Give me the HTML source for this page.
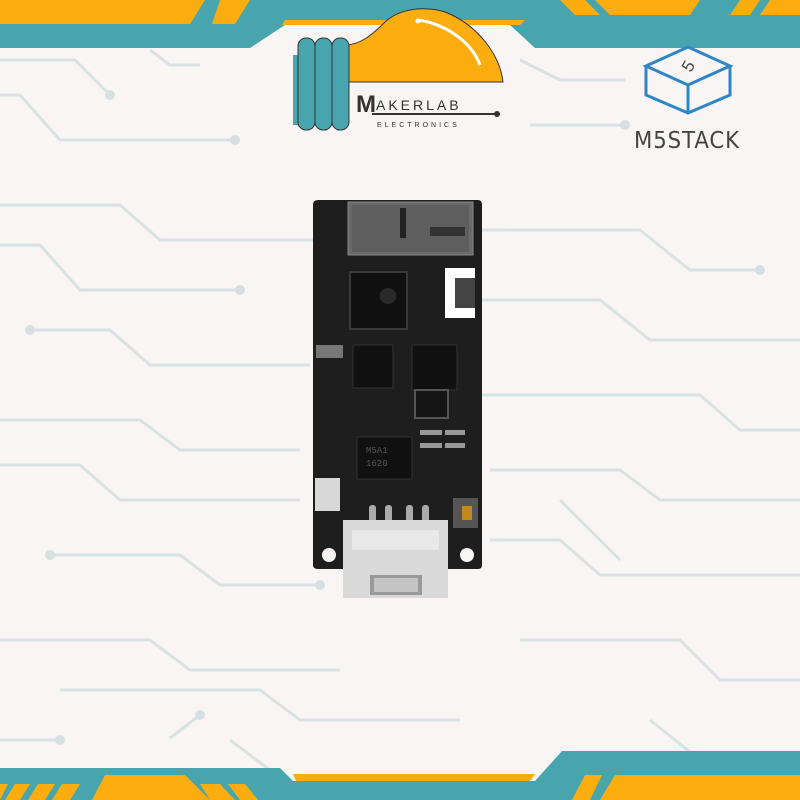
<!DOCTYPE html><html><head><style>html,body{margin:0;padding:0;background:#f8f5f4}svg{display:block}</style></head><body>
<svg width="800" height="800" viewBox="0 0 800 800" xmlns="http://www.w3.org/2000/svg">
<rect width="800" height="800" fill="#f8f5f4"/>
<g stroke="#d6e0e2" stroke-width="3" fill="none" opacity="0.9">
<path d="M0 60 H75 L110 95"/><path d="M0 95 H20 L60 140 H235"/><path d="M150 50 L170 65 H200"/>
<path d="M520 60 L560 80 H625"/><path d="M530 125 H625"/>
<path d="M0 205 H120 L160 240 H320"/><path d="M0 245 H40 L80 290 H240"/><path d="M30 330 H110 L150 365 H310"/>
<path d="M0 420 H140 L180 450 H300"/><path d="M0 465 H80 L120 500 H300"/><path d="M50 555 H180 L220 585 H320"/>
<path d="M480 230 H640 L690 270 H760"/><path d="M480 300 H600 L650 340 H800"/><path d="M480 395 H700 L740 430 H800"/>
<path d="M490 470 H620 L660 500 H800"/><path d="M490 540 H560 L600 575 H800"/><path d="M560 500 L620 560"/>
<path d="M0 640 H150 L190 670 H340"/><path d="M60 690 H260 L300 720 H460"/><path d="M520 640 H680 L720 680 H800"/>
<path d="M230 740 L270 770"/><path d="M650 720 L700 760"/><path d="M0 740 H60"/><path d="M170 738 L200 715"/>
</g>
<g fill="#d6e0e2"><circle cx="110" cy="95" r="5"/><circle cx="235" cy="140" r="5"/><circle cx="625" cy="125" r="5"/><circle cx="320" cy="240" r="5"/><circle cx="240" cy="290" r="5"/><circle cx="30" cy="330" r="5"/><circle cx="760" cy="270" r="5"/><circle cx="60" cy="740" r="5"/><circle cx="200" cy="715" r="5"/><circle cx="320" cy="585" r="5"/><circle cx="50" cy="555" r="5"/></g>
<polygon points="0,0 800,0 800,48 535,48 510,25 285,25 250,48 0,48" fill="#48a5ae"/>
<polygon points="0,0 205,0 190,24 0,24" fill="#fbad0f"/>
<polygon points="220,0 250,0 235,24 212,24" fill="#fbad0f"/>
<polygon points="285,20 525,20 520,25 282,25" fill="#fbad0f"/>
<polygon points="560,0 585,0 600,15 575,15" fill="#fbad0f"/>
<polygon points="595,0 700,0 690,15 610,15" fill="#fbad0f"/>
<polygon points="740,0 760,0 750,15 730,15" fill="#fbad0f"/>
<polygon points="770,0 800,0 800,15 760,15" fill="#fbad0f"/>
<polygon points="0,768 280,768 293,781 535,781 562,751 800,751 800,800 0,800" fill="#48a5ae"/>
<polygon points="293,774 535,774 530,781 296,781" fill="#fbad0f"/>
<polygon points="0,784 8,784 0,800" fill="#fbad0f"/><polygon points="15,784 30,784 20,800 5,800" fill="#fbad0f"/>
<polygon points="38,784 55,784 45,800 28,800" fill="#fbad0f"/><polygon points="62,784 80,784 70,800 52,800" fill="#fbad0f"/>
<polygon points="105,775 185,775 210,800 92,800" fill="#fbad0f"/>
<polygon points="200,784 220,784 235,800 210,800" fill="#fbad0f"/><polygon points="228,784 245,784 258,800 240,800" fill="#fbad0f"/>
<polygon points="585,775 602,775 590,800 572,800" fill="#fbad0f"/>
<polygon points="615,775 800,775 800,800 600,800" fill="#fbad0f"/>
<path d="M345 45 C360 45 372 35 385 22 C400 8 425 6 445 12 C478 25 500 55 503 82 H345 Z" fill="#fbad0f" stroke="#333" stroke-width="1"/>
<path d="M418 20 C440 23 470 38 480 65" stroke="#fff" stroke-width="3" fill="none"/>
<circle cx="418" cy="21" r="2.5" fill="#fff"/>
<rect x="293" y="55" width="8" height="70" fill="#48a5ae"/>
<rect x="298" y="38" width="17" height="92" rx="8" fill="#48a5ae" stroke="#333"/>
<rect x="315" y="38" width="17" height="92" rx="8" fill="#48a5ae" stroke="#333"/>
<rect x="332" y="38" width="17" height="92" rx="8" fill="#48a5ae" stroke="#333"/>
<text x="356" y="112" font-family="Liberation Sans,sans-serif" font-size="24" font-weight="bold" fill="#333">M</text>
<text x="376" y="110" font-family="Liberation Sans,sans-serif" font-size="14" fill="#333" letter-spacing="3">AKERLAB</text>
<line x1="372" y1="114" x2="497" y2="114" stroke="#333" stroke-width="2"/>
<circle cx="497" cy="114" r="3" fill="#333"/>
<text x="377" y="127" font-family="Liberation Sans,sans-serif" font-size="7" fill="#333" letter-spacing="3">ELECTRONICS</text>
<g stroke="#2f86c5" stroke-width="3" fill="none">
<polygon points="688,47 730,66 688,85 646,66"/><path d="M646 66 V95 L688 113 L730 95 V66 M688 85 V113"/>
</g>
<text x="688" y="72" font-family="Liberation Sans,sans-serif" font-size="17" fill="#444" text-anchor="middle" transform="rotate(-60 688 66)">5</text>
<text x="687" y="148" font-family="DejaVu Sans,sans-serif" font-size="23" fill="#444" text-anchor="middle" letter-spacing="1" textLength="106" lengthAdjust="spacingAndGlyphs">M5STACK</text>
<path d="M318 200 H478 Q482 200 482 205 V565 Q482 569 478 569 H318 Q313 569 313 565 V205 Q313 200 318 200 Z" fill="#1e1e1e"/>
<rect x="348" y="202" width="125" height="53" fill="#6a6a6a" stroke="#888"/>
<rect x="352" y="205" width="117" height="47" fill="#5e5e5e"/>
<rect x="400" y="208" width="6" height="30" fill="#222"/><rect x="430" y="227" width="35" height="9" fill="#333"/>
<path d="M445 268 H475 V280 H455 V305 H475 V318 H445 Z" fill="#fff"/>
<rect x="455" y="278" width="20" height="30" fill="#444"/>
<rect x="350" y="272" width="57" height="57" fill="#111" stroke="#3a3a3a" stroke-width="2"/>
<circle cx="388" cy="296" r="8" fill="#2a2a2a"/>
<rect x="353" y="345" width="40" height="43" fill="#111" stroke="#333"/>
<rect x="412" y="345" width="45" height="45" fill="#111" stroke="#333"/>
<rect x="415" y="390" width="33" height="28" fill="#151515" stroke="#555" stroke-width="2"/>
<rect x="316" y="345" width="27" height="13" fill="#777"/>
<rect x="357" y="437" width="55" height="42" fill="#111" stroke="#333"/>
<text x="366" y="453" font-family="Liberation Mono,monospace" font-size="9" fill="#555">M5A1</text>
<text x="366" y="466" font-family="Liberation Mono,monospace" font-size="9" fill="#555">1620</text>
<g fill="#9a9a9a"><rect x="420" y="430" width="22" height="5"/><rect x="445" y="430" width="20" height="5"/><rect x="420" y="443" width="22" height="5"/><rect x="445" y="443" width="20" height="5"/></g>
<rect x="315" y="478" width="25" height="33" fill="#d8d8d8"/>
<rect x="453" y="498" width="25" height="30" fill="#555"/><rect x="462" y="506" width="10" height="14" fill="#c38a1a"/>
<circle cx="329" cy="555" r="7" fill="#f8f5f4"/><circle cx="467" cy="555" r="7" fill="#f8f5f4"/>
<g fill="#aaa"><rect x="369" y="505" width="7" height="20" rx="3"/><rect x="385" y="505" width="7" height="20" rx="3"/><rect x="406" y="505" width="7" height="20" rx="3"/><rect x="422" y="505" width="7" height="20" rx="3"/></g>
<rect x="343" y="520" width="105" height="78" fill="#d9d9d9"/>
<rect x="352" y="530" width="87" height="20" fill="#e8e8e8"/>
<rect x="370" y="575" width="52" height="20" fill="#999"/><rect x="374" y="578" width="44" height="14" fill="#c4c4c4"/>
</svg>
</body></html>
